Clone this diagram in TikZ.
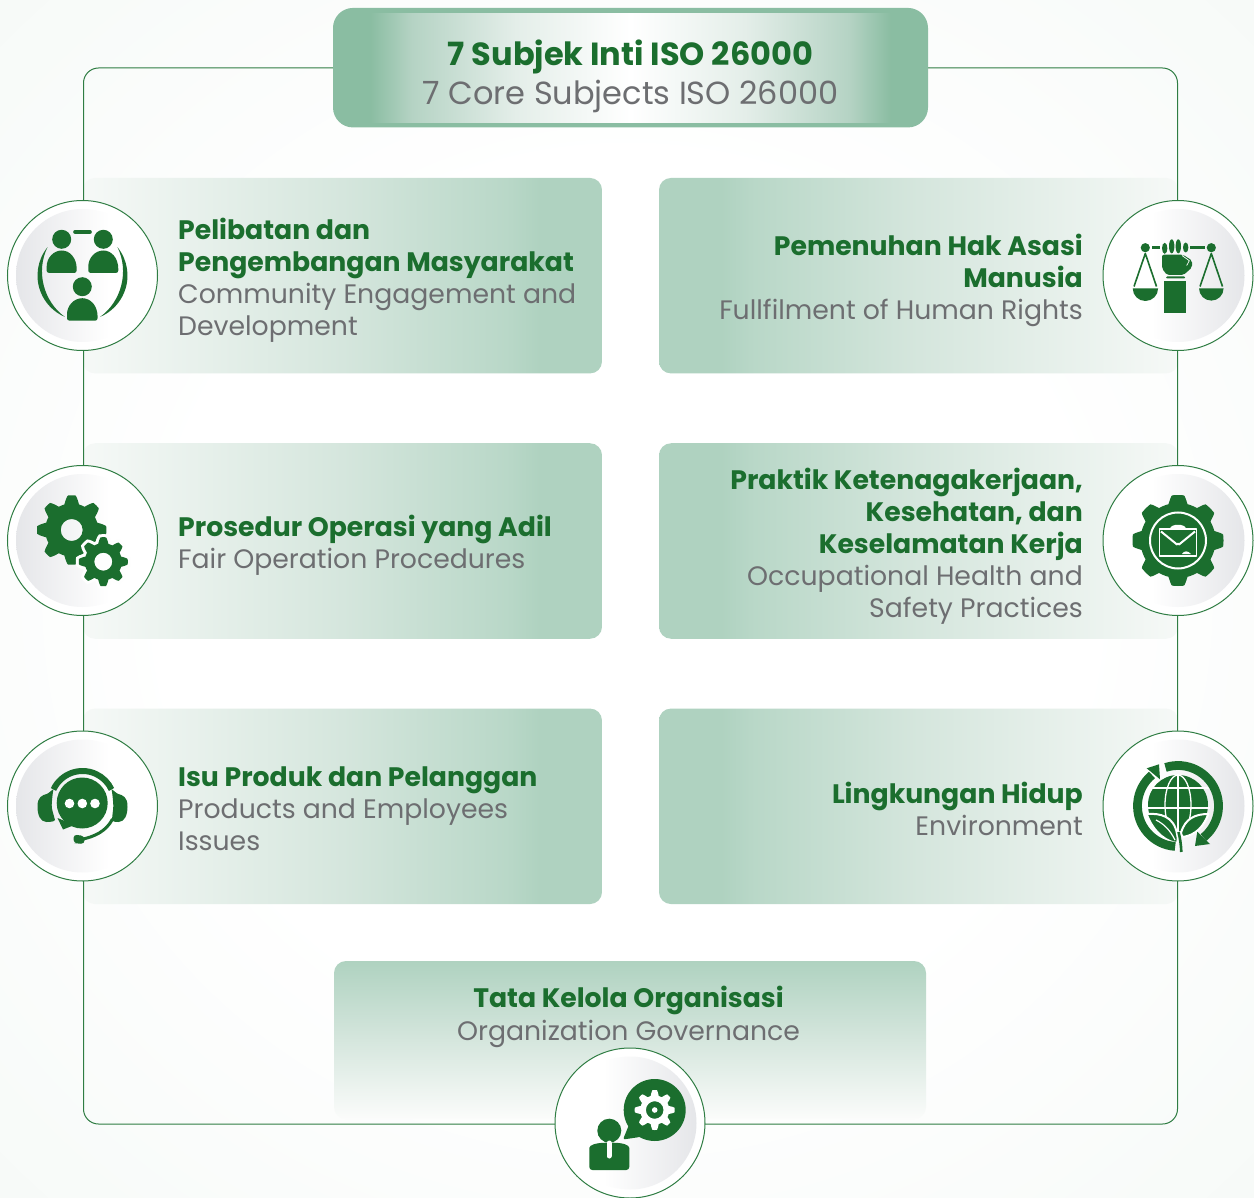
\documentclass[tikz,border=0pt]{standalone}
\usepackage{fontspec}
\setmainfont{Poppins}
\usetikzlibrary{calc}
\definecolor{tgreen}{HTML}{1B6E2E}
\definecolor{tgray}{HTML}{6D6E71}
\definecolor{framec}{HTML}{2F7D43}
\definecolor{titlec}{HTML}{8ABDA2}
\definecolor{titleb}{HTML}{B5D3C4}
\definecolor{titled}{HTML}{E4EEE9}
\definecolor{cardc}{HTML}{AFD2C0}
\definecolor{cardm}{HTML}{D5E6DD}
\definecolor{cardz}{HTML}{F6F9F7}
\definecolor{cardy}{HTML}{FBFCFB}
\definecolor{bgedge}{HTML}{F0F6F2}
\definecolor{disc}{HTML}{E5E6E9}
\pgfdeclareradialshading{bgshade}{\pgfpoint{0bp}{0bp}}{color(0bp)=(white); color(18bp)=(white); color(50bp)=(bgedge)}
\pgfdeclarehorizontalshading{cardL}{100bp}{color(0bp)=(cardz); color(25bp)=(cardz); color(50bp)=(cardm); color(66bp)=(cardc!88!white); color(69bp)=(cardc); color(100bp)=(cardc)}
\pgfdeclarehorizontalshading{cardR}{100bp}{color(0bp)=(cardc); color(31bp)=(cardc); color(34bp)=(cardc!88!white); color(50bp)=(cardm); color(75bp)=(cardz); color(100bp)=(cardz)}
\pgfdeclareverticalshading{cardB}{100bp}{color(0bp)=(cardy); color(25bp)=(cardy); color(37bp)=(cardz!60!cardm); color(50bp)=(cardm); color(75bp)=(cardc); color(100bp)=(cardc)}
\pgfdeclarehorizontalshading{titleS}{100bp}{color(0bp)=(titlec); color(25bp)=(titlec); color(29bp)=(titleb); color(39bp)=(titled); color(50bp)=(white); color(61bp)=(titled); color(71bp)=(titleb); color(75bp)=(titlec); color(100bp)=(titlec)}
\pgfdeclarehorizontalshading{discL}{100bp}{color(0bp)=(disc); color(25bp)=(disc); color(60bp)=(white); color(100bp)=(white)}
\pgfdeclarehorizontalshading{discR}{100bp}{color(0bp)=(white); color(40bp)=(white); color(75bp)=(disc); color(100bp)=(disc)}
\newcommand{\hd}[1]{{\bfseries\color{tgreen}#1}}
\newcommand{\sbj}[1]{{\color{tgray}#1}}
% gear outline: cx cy root outer teeth offset steepness
\newcommand{\gearline}[7]{plot[domain=0:360,samples=289,variable=\t,smooth]
 ({#1+(((#3+#4)/2)+((#4-#3)/2)*max(-1,min(1,#7*cos(#5*(\t-#6)))))*cos(\t)},
  {#2+(((#3+#4)/2)+((#4-#3)/2)*max(-1,min(1,#7*cos(#5*(\t-#6)))))*sin(\t)}) -- cycle}
\newcommand{\bust}[3]{% cx, bottom y, half width
 \fill[iconf,rounded corners=2.5pt] (#1-#3,#2) -- (#1-#3,#2+4) [sharp corners] .. controls (#1-#3,#2+15) and (#1-#3*0.55,#2+22.5) .. (#1,#2+22.5) .. controls (#1+#3*0.55,#2+22.5) and (#1+#3,#2+15) .. (#1+#3,#2+4) [rounded corners=2.5pt] -- (#1+#3,#2) -- cycle;}
\tikzset{
 iconf/.style={fill=tgreen},
 cardbox/.style={rectangle,rounded corners=12pt,inner sep=0pt,minimum height=195.5pt},
 ringdisc/.style={circle,draw=framec,line width=1pt,fill=white,minimum size=150pt,inner sep=0pt},
 innerL/.style={circle,shading=discL,minimum size=133pt,inner sep=0pt},
 innerR/.style={circle,shading=discR,minimum size=133pt,inner sep=0pt},
 cardtext/.style={inner sep=0pt,font=\fontsize{26.7}{32}\selectfont},
 ltext/.style={cardtext,anchor=west,align=left},
 rtext/.style={cardtext,anchor=east,align=right},
}
\begin{document}
\begin{tikzpicture}[x=1pt,y=1pt]
\useasboundingbox (0,0) rectangle (1254,-1198);
\node[rectangle,inner sep=0pt,minimum width=1254pt,minimum height=1198pt,shading=bgshade] (bg) at (627,-599) {};
% cards
\node[cardbox,minimum width=519pt,shading=cardL] (c1) at (342.5,-275.7) {};
\node[cardbox,minimum width=519pt,shading=cardL] (c3) at (342.5,-541) {};
\node[cardbox,minimum width=519pt,shading=cardL] (c5) at (342.5,-806.3) {};
\node[cardbox,minimum width=519pt,shading=cardR] (c2) at (918.5,-275.7) {};
\node[cardbox,minimum width=519pt,shading=cardR] (c4) at (918.5,-541) {};
\node[cardbox,minimum width=519pt,shading=cardR] (c6) at (918.5,-806.3) {};
\node[rectangle,rounded corners=12pt,inner sep=0pt,minimum width=592pt,minimum height=158pt,shading=cardB] (c7) at (630,-1040) {};
% frame
\node[rectangle,draw=framec,line width=1pt,rounded corners=15pt,minimum width=1094pt,minimum height=1056pt,inner sep=0pt] (frame) at (630.5,-596) {};
% title
\node[rectangle,fill=titlec,rounded corners=20pt,minimum width=595pt,minimum height=119.5pt,inner sep=0pt] (titlebox) at (630.5,-67.7) {};
\node[rectangle,shading=titleS,minimum width=520pt,minimum height=109pt,inner sep=0pt] (titleinner) at (630.5,-67.7) {};
\node[inner sep=0pt,align=center,font=\fontsize{32}{39}\selectfont] (titletext) at (630.5,-76.5) {\hd{7 Subjek Inti ISO 26000}\\\sbj{7 Core Subjects ISO 26000}};
% texts
\node[ltext] (t1) at (178,-280) {\hd{Pelibatan dan}\\\hd{Pengembangan Masyarakat}\\\sbj{Community Engagement and}\\\sbj{Development}};
\node[rtext] (t2) at (1083,-280) {\hd{Pemenuhan Hak Asasi}\\\hd{Manusia}\\\sbj{Fullfilment of Human Rights}};
\node[ltext] (t3) at (178,-545) {\hd{Prosedur Operasi yang Adil}\\\sbj{Fair Operation Procedures}};
\node[rtext] (t4) at (1083,-546) {\hd{Praktik Ketenagakerjaan,}\\\hd{Kesehatan, dan}\\\hd{Keselamatan Kerja}\\\sbj{Occupational Health and}\\\sbj{Safety Practices}};
\node[ltext] (t5) at (178,-809) {\hd{Isu Produk dan Pelanggan}\\\sbj{Products and Employees}\\\sbj{Issues}};
\node[rtext] (t6) at (1083,-809) {\hd{Lingkungan Hidup}\\\sbj{Environment}};
\node[cardtext,align=center,font=\fontsize{26.7}{33}\selectfont] (t7) at (628.5,-1017) {\hd{Tata Kelola Organisasi}\\\sbj{Organization Governance}};
% circles
\foreach \n/\x/\y/\s in {d1/82.5/-275.5/innerL,d3/82.5/-540.5/innerL,d5/82.5/-806/innerL,d2/1178/-275.5/innerR,d4/1178/-540.5/innerR,d6/1178/-806/innerR,d7/630/-1123/innerR}{
 \node[ringdisc] (\n) at (\x,\y) {};
 \node[\s] (\n i) at (\x,\y) {};
}
% ---- icon 1 community
\begin{scope}[shift={(82.5,-275.5)}]
 \fill[iconf] (-20.8,36.2) circle[radius=9.5pt];
 \fill[iconf] (20.8,36.2) circle[radius=9.5pt];
 \fill[iconf] (-0.2,-11.2) circle[radius=9.5pt];
 \bust{-20.8}{2.5}{15}
 \bust{20.8}{2.5}{15}
 \bust{-0.2}{-45.2}{15.3}
 \draw[tgreen,line width=3.6pt,line cap=round] (-7.5,43.5) -- (7.5,43.5);
 \fill[iconf,line join=round] (141:45pt) arc[start angle=141,end angle=247,radius=45pt] .. controls (213.4:47pt) and (174.6:47pt) .. (141:45pt) -- cycle;
 \fill[iconf,line join=round] (39:45pt) arc[start angle=39,end angle=-67,radius=45pt] .. controls (-33.4:47pt) and (5.4:47pt) .. (39:45pt) -- cycle;
\end{scope}
% ---- icon 2 balance
\begin{scope}[shift={(1178,-275.5)}]
 \fill[iconf] (-32.7,27.8) circle[radius=4.6pt];
 \fill[iconf] (33.3,27.8) circle[radius=4.6pt];
 \fill[iconf] (-26,26) rectangle (-18,29.5);
 \fill[iconf] (12,26) rectangle (27,29.5);
 \draw[tgreen,line width=1.6pt,line join=round] (-44,-11) -- (-32.7,22) -- (-21.5,-11);
 \draw[tgreen,line width=1.6pt,line join=round] (22,-11) -- (33.3,22) -- (44.5,-11);
 \fill[iconf] (-45.3,-12.8) arc[start angle=180,end angle=360,radius=12.7pt] -- cycle;
 \fill[iconf] (21,-12.8) arc[start angle=180,end angle=360,radius=12.3pt] -- cycle;
 \fill[iconf] (-13.3,27.2) ellipse[x radius=2.7pt,y radius=5.5pt];
 \fill[iconf] (-6.3,29.2) ellipse[x radius=2.7pt,y radius=7pt];
 \fill[iconf] (0.3,29.2) ellipse[x radius=2.7pt,y radius=7pt];
 \fill[iconf] (7.7,28) ellipse[x radius=2.7pt,y radius=5pt];
 \fill[iconf,rounded corners=2pt] (-16,20.8) -- (5,20.8) -- (14,15) -- (14,8) -- (5.5,0.5) -- (-11,0.5) -- (-16,7) -- cycle;
 \draw[white,line width=.7pt,line join=round] (4,20) -- (11.3,14.8) -- (8.7,10);
 \fill[iconf,rounded corners=1pt] (-12,-1) rectangle (7,-3);
 \fill[iconf] (-14,-5.3) rectangle (8,-37.2);
\end{scope}
% ---- icon 3 gears
\fill[iconf,even odd rule] \gearline{71.7}{-530}{26.5}{34.7}{8}{90}{1.6} (71.7,-530) circle[radius=11pt];
\draw[white!96!disc,line width=6pt,fill=white!96!disc] \gearline{103.3}{-561.7}{18.5}{24.5}{8}{90}{1.6};
\fill[iconf,even odd rule] \gearline{103.3}{-561.7}{18.5}{24.5}{8}{90}{1.6} (103.3,-561.7) circle[radius=9pt];
% ---- icon 4 gear + envelope
\begin{scope}[shift={(1178,-540.5)}]
 \fill[iconf] \gearline{0}{0}{37.5}{45.5}{8}{0}{2.2};
 \draw[white,line width=2pt] (0,0) circle[radius=28pt];
 \draw[white,line width=1.8pt,line join=round] (-18.5,11.5) rectangle (18.5,-15.5);
 \fill[white] (-8,12) .. controls (-7,17) and (7,17) .. (8,12) -- cycle;
 \draw[white,line width=2pt,line join=round] (-17,9) -- (-1,-4) -- (0,-3) -- (1,-4) -- (17,9);
 \fill[white] (4,-13.5) .. controls (6,-10) and (10,-10) .. (13,-13.5) -- cycle;
\end{scope}
% ---- icon 5 headset
\begin{scope}[shift={(82.5,-806)}]
 \fill[iconf] (-0.3,3) circle[radius=25.5pt];
 \fill[iconf] (-25,-12) -- (-19.5,-23.5) -- (-8,-19) -- cycle;
 \fill[white] (-13,2.5) circle[radius=4.8pt];
 \fill[white] (-0.2,2.5) circle[radius=4.8pt];
 \fill[white] (12.5,2.5) circle[radius=4.8pt];
 \draw[tgreen,line width=6pt] (0,3) ++(155:32pt) arc[start angle=155,end angle=25,radius=32pt];
 \fill[iconf] (-29,17) .. controls (-33,14) and (-34,12) .. (-39,11) .. controls (-44,9) and (-45.5,3) .. (-45,-1) .. controls (-45,-9) and (-42,-16) .. (-36,-16) .. controls (-32,-16) and (-28,-15.5) .. (-27.5,-14) .. controls (-29,-8) and (-31,-3) .. (-30.8,1) .. controls (-30.5,6) and (-30,12) .. (-29,17) -- cycle;
 \fill[iconf] (29,17) .. controls (33,14) and (34,12) .. (39,11) .. controls (44,9) and (45.5,3) .. (45,-1) .. controls (45,-9) and (42,-16) .. (36,-16) .. controls (32,-16) and (30,-15.5) .. (29.5,-14) .. controls (29.8,-8) and (31,-3) .. (30.8,1) .. controls (30.5,6) and (30,12) .. (29,17) -- cycle;
 \draw[tgreen,line width=3pt] (30,-13) .. controls (24,-25) and (12,-31) .. (-2,-33.5);
 \fill[iconf,rounded corners=3.5pt] (-9,-28.5) -- (2,-30) -- (2,-38) -- (-5,-37.5) -- (-9,-37) -- cycle;
\end{scope}
% ---- icon 6 earth
\begin{scope}[shift={(1178,-806)}]
 \begin{scope}
  \clip (-34,33) rectangle (34,-24);
  \fill[iconf] (0,1) circle[radius=30pt];
 \end{scope}
 \draw[white,line width=1.3pt] (-32,18) -- (32,18);
 \draw[white,line width=2pt] (-32,-1.5) -- (32,-1.5);
 \draw[white,line width=1.3pt] (0,32) -- (0,-30);
 \draw[white,line width=1.3pt] (0,1) ellipse[x radius=13pt,y radius=30pt];
 % leaves
 \fill[iconf,draw=white,line width=2pt,line join=round] (-31.3,-8) .. controls (-18,-7) and (-4,-10) .. (-1,-28) .. controls (0,-33) and (0,-35) .. (-1,-37) .. controls (-10,-36) and (-24,-28) .. (-31.3,-8) -- cycle;
 \fill[iconf,draw=white,line width=2pt,line join=round] (30.3,-8) .. controls (18,-8) and (7,-12) .. (3,-27) .. controls (3.5,-29) and (4,-30) .. (5,-31) .. controls (18,-29) and (26,-20) .. (30.3,-8) -- cycle;
 \draw[white,line width=1.2pt] (-22,-14) .. controls (-14,-18) and (-8,-24) .. (-3,-34);
 \draw[tgreen,line width=2.6pt] (3.3,-46) .. controls (3,-38) and (2,-32) .. (0.5,-26);
 \draw[tgreen,line width=8.8pt] (108:40.5pt) arc[start angle=108,end angle=-51,radius=40.5pt];
 \draw[tgreen,line width=8.8pt] (-94:40.5pt) arc[start angle=-94,end angle=-230,radius=40.5pt];
 \fill[iconf] (19.3,-25.7) -- (32,-38) -- (17,-40) -- cycle;
 \fill[iconf] (-31.3,37.7) -- (-19,41.7) -- (-18,26.7) -- cycle;
\end{scope}
% ---- icon 7 governance
\begin{scope}[shift={(630,-1123)}]
 \fill[iconf] (24.7,13) circle[radius=31pt];
 \fill[iconf,rounded corners=2pt] (3,8) -- (-7,-16.5) -- (10,-14) -- cycle;
 \fill[white,even odd rule] \gearline{24.7}{13}{14.5}{20}{8}{0}{1.6} (24.7,13) circle[radius=8.8pt];
 \fill[white] (24.7,13) circle[radius=2.8pt];
 \fill[iconf] (-20.7,-7.7) circle[radius=12pt];
 \fill[iconf,rounded corners=3pt] (-40.7,-47) -- (-40.7,-28) .. controls (-40.7,-22) and (-34,-19.7) .. (-20.5,-19.7) .. controls (-7,-19.7) and (-0.7,-22) .. (-0.7,-28) -- (-0.7,-47) -- cycle;
 \draw[white,line width=5pt,line cap=round] (-21,-20) -- (-21,-33);
\end{scope}
\end{tikzpicture}
\end{document}
